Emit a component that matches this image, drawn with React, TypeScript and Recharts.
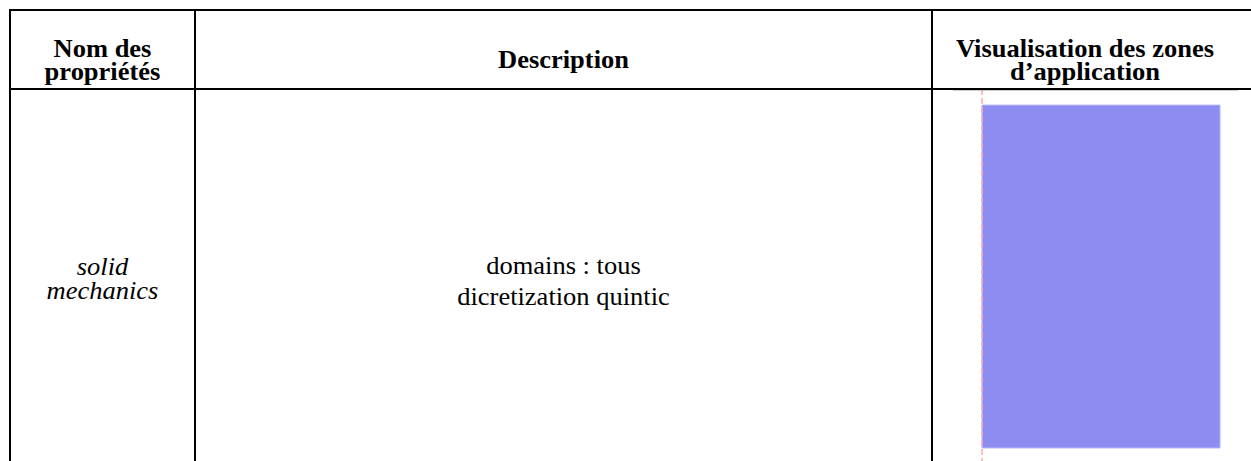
import { BarChart, Bar, XAxis, YAxis } from 'recharts';

// table content
const headers = [
  ['Nom des', 'propriétés'],
  ['Description'],
  ['Visualisation des zones', 'd’application'],
];
const propertyName = ['solid', 'mechanics'];
const descriptionLines = ['domains : tous', 'dicretization quintic'];

// zone shown in the last column (whole domain covered)
const zones = [{ zone: 'tous', extent: 1 }];

const colX = [10, 195, 932, 1251];
const headTop = 10;
const headBottom = 89;
const stretch = 1.06;
const FONT = '"Liberation Serif", "Times New Roman", serif';

function Txt({ x, y, text, bold, italic }: { x: number; y: number; text: string; bold?: boolean; italic?: boolean }) {
  return (
    <text
      transform={`translate(${x},${y}) scale(${stretch},1)`}
      textAnchor="middle"
      fontFamily={FONT}
      fontSize={25}
      fontWeight={bold ? 'bold' : 'normal'}
      fontStyle={italic ? 'italic' : 'normal'}
      fill="#000"
    >
      {text}
    </text>
  );
}

export default function App() {
  const centers = [(colX[0] + colX[1]) / 2, (colX[1] + colX[2]) / 2, 1085];
  return (
    <div style={{ position: 'absolute', left: 0, top: 0, width: 1251, height: 461, background: '#fff', overflow: 'hidden' }}>
      <div style={{ position: 'absolute', left: 979, top: 89 }}>
        <BarChart width={243} height={372} data={zones} margin={{ top: 0, right: 2, bottom: 0, left: 0 }} barCategoryGap={0}>
          <XAxis dataKey="zone" hide />
          <YAxis
            width={3}
            domain={[-0.038, 1.047]}
            tick={false}
            axisLine={{ stroke: '#ffaaaa', strokeDasharray: '6 3', strokeWidth: 1.5 }}
            tickLine={false}
          />
          <Bar dataKey="extent" fill="#8c8cf1" stroke="#b4b4ff" strokeWidth={1} isAnimationActive={false} />
        </BarChart>
      </div>
      <svg width={1251} height={461} style={{ position: 'absolute', left: 0, top: 0, pointerEvents: 'none' }}>
        <line x1={9} x2={1251} y1={headTop} y2={headTop} stroke="#000" strokeWidth={2} />
        <line x1={953} x2={1238} y1={headBottom + 1} y2={headBottom + 1} stroke="#999" strokeWidth={1} />
        <line x1={9} x2={1251} y1={headBottom} y2={headBottom} stroke="#000" strokeWidth={2} />
        {colX.slice(0, 3).map(x => (
          <line key={x} x1={x} x2={x} y1={headTop - 1} y2={461} stroke="#000" strokeWidth={2} />
        ))}
        {headers.map((lines, i) =>
          lines.map((t, j) => (
            <Txt
              key={t}
              x={centers[i]}
              y={lines.length === 1 ? 68 : 57 + j * 23}
              text={t}
              bold
            />
          ))
        )}
        {propertyName.map((t, j) => (
          <Txt key={t} x={centers[0]} y={275 + j * 24} text={t} italic />
        ))}
        {descriptionLines.map((t, j) => (
          <Txt key={t} x={centers[1]} y={274 + j * 31} text={t} />
        ))}
      </svg>
    </div>
  );
}
